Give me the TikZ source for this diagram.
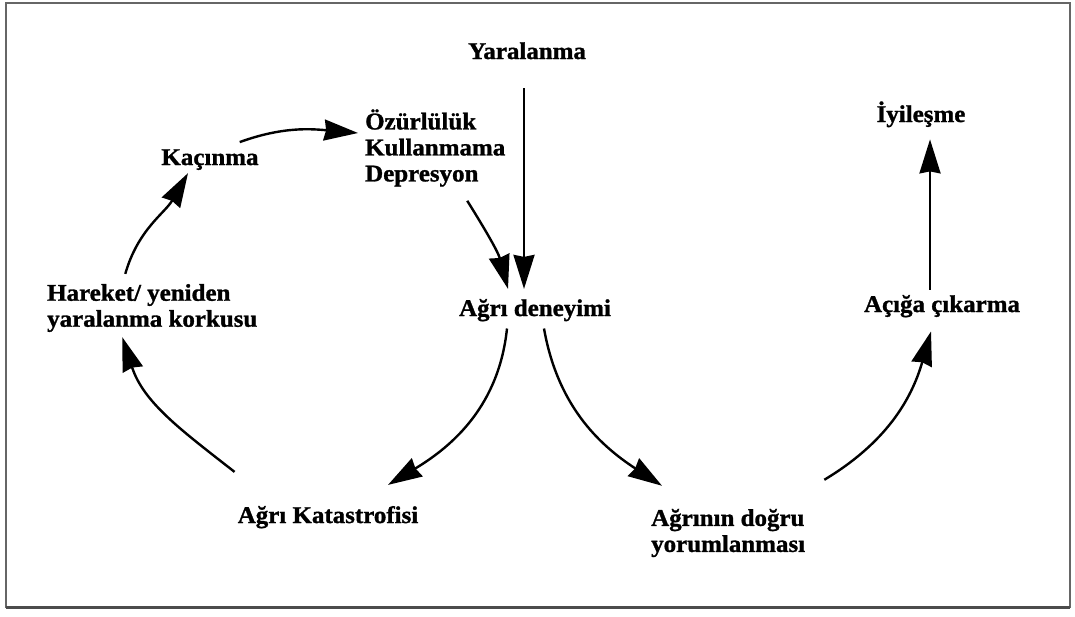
\documentclass[tikz,border=0pt]{standalone}
\usepackage{fontspec}
\setmainfont{Liberation Serif}[FakeStretch=1.04,FakeBold=1.2]
\usetikzlibrary{arrows.meta}

\begin{document}
\begin{tikzpicture}[x=1pt, y=1pt,
    font=\fontsize{24}{26}\selectfont\bfseries,
    lbl/.style={inner sep=0pt, align=left},
    post/.style={-{Stealth[length=34pt,width=21pt,inset=2pt]}, line width=2.4pt},
    frame/.style={draw=black!60, line width=2pt}
]
\useasboundingbox (0,0) rectangle (1075,-616);
\draw[frame] (6,-3) rectangle (1070,-607);
\draw[black!70, line width=3pt] (6,-607) -- (1070,-607);

% labels
\node[lbl, anchor=base] (yara) at (527,-59) {Yaralanma};
\node[lbl, anchor=west] (ozur) at (365,-148) {Özürlülük\\Kullanmama\\Depresyon};
\node[lbl, anchor=base] (kacin) at (210,-165) {Kaçınma};
\node[lbl, anchor=west] (hareket) at (47,-308) {Hareket/ yeniden\\yaralanma korkusu};
\node[lbl, anchor=base] (deney) at (535,-316) {Ağrı deneyimi};
\node[lbl, anchor=base] (katas) at (328,-523) {Ağrı Katastrofisi};
\node[lbl, anchor=west] (dogru) at (651,-533) {Ağrının doğru\\yorumlanması};
\node[lbl, anchor=base] (acig) at (942,-312) {Açığa çıkarma};
\node[lbl, anchor=base] (iyi) at (921,-122) {İyileşme};

% arrows
\draw[post] ([xshift=-3pt,yshift=-29pt]yara.south) -- ([xshift=-11pt,yshift=10pt]deney.north);
\draw[post] ([xshift=32pt,yshift=-14pt]ozur.south) to[out=-58,in=105] ([xshift=-27pt,yshift=10pt]deney.north);
\draw[post] ([xshift=-19pt,yshift=7pt]kacin.north east) to[out=20,in=175] ([xshift=-7pt,yshift=15pt]ozur.west);
\draw[post] ([xshift=-27pt,yshift=10pt]hareket.north) to[out=74,in=-120] ([xshift=-22pt,yshift=-3pt]kacin.south);
\draw[post] ([xshift=-3pt,yshift=34pt]katas.north west) to[out=142,in=-72] ([xshift=-30pt,yshift=-5pt]hareket.south);
\draw[post] ([xshift=-28pt,yshift=-7pt]deney.south) to[out=-96,in=31] ([xshift=60pt,yshift=21pt]katas.north);
\draw[post] ([xshift=9pt,yshift=-7pt]deney.south) to[out=-80,in=147] ([xshift=11pt,yshift=23pt]dogru.north west);
\draw[post] ([xshift=19pt,yshift=29pt]dogru.north east) to[out=31,in=-106] ([xshift=-11pt,yshift=-14pt]acig.south);
\draw[post] ([xshift=-12pt,yshift=5pt]acig.north) -- ([xshift=9pt,yshift=-12pt]iyi.south);

\end{tikzpicture}
\end{document}
